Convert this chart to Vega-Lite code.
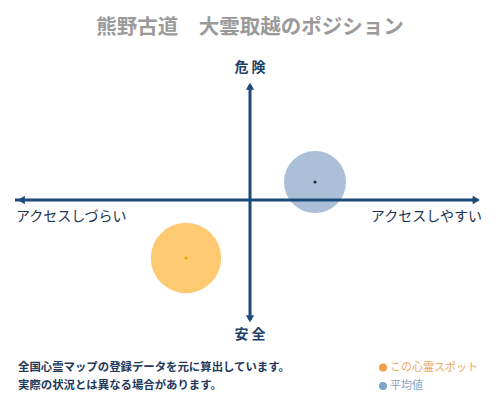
{
  "$schema": "https://vega.github.io/schema/vega-lite/v6.json",
  "width": 500,
  "height": 400,
  "autosize": {"type": "none"},
  "padding": 0,
  "background": "#ffffff",
  "config": {
    "view": {"stroke": null},
    "text": {"font": "Noto Sans CJK JP"}
  },
  "datasets": {
    "axes": [
      {"x": -9.4, "y": 0, "x2": 9.1, "y2": 0},
      {"x": 0, "y": 4.6, "x2": 0, "y2": -4.8}
    ],
    "heads": [
      {"x": -9.15, "y": 0, "dir": "triangle-left"},
      {"x": 9.05, "y": 0, "dir": "triangle-right"},
      {"x": 0, "y": 4.55, "dir": "triangle-up"},
      {"x": 0, "y": -4.75, "dir": "triangle-down"}
    ],
    "spots": [
      {"name": "平均値", "x": 2.6, "y": 0.72},
      {"name": "この心霊スポット", "x": -2.56, "y": -2.32}
    ],
    "labels": [
      {"text": "熊野古道　大雲取越のポジション", "x": 0, "y": 6.88, "role": "title"},
      {"text": "危 険", "x": 0, "y": 5.28, "role": "pole"},
      {"text": "安 全", "x": 0, "y": -5.4, "role": "pole"}
    ],
    "sides": [
      {"text": "アクセスしづらい", "x": -9.36, "y": -0.66, "side": "left"},
      {"text": "アクセスしやすい", "x": 9.28, "y": -0.66, "side": "right"}
    ],
    "notes": [
      {"text": "全国心霊マップの登録データを元に算出しています。", "x": -9.28, "y": -6.72},
      {"text": "実際の状況とは異なる場合があります。", "x": -9.28, "y": -7.44}
    ],
    "legend": [
      {"name": "この心霊スポット", "x": 5.32, "y": -6.7},
      {"name": "平均値", "x": 5.32, "y": -7.44}
    ]
  },
  "encoding": {
    "x": {"field": "x", "type": "quantitative", "scale": {"domain": [-10, 10]}, "axis": null},
    "y": {"field": "y", "type": "quantitative", "scale": {"domain": [-8, 8]}, "axis": null}
  },
  "resolve": {"scale": {"color": "independent"}},
  "layer": [
    {
      "data": {"name": "spots"},
      "transform": [{"filter": "datum.name === '平均値'"}],
      "mark": {"type": "circle", "opacity": 1, "size": 3850, "color": "#abc0d8"}
    },
    {
      "data": {"name": "spots"},
      "transform": [{"filter": "datum.name === 'この心霊スポット'"}],
      "mark": {"type": "circle", "opacity": 1, "size": 4950, "color": "#fdca72"}
    },
    {
      "data": {"name": "axes"},
      "mark": {"type": "rule", "color": "#1c4a78", "strokeWidth": 3},
      "encoding": {
        "x2": {"field": "x2"},
        "y2": {"field": "y2"}
      }
    },
    {
      "data": {"name": "heads"},
      "mark": {"type": "point", "filled": true, "color": "#1c4a78", "opacity": 1, "size": 70},
      "encoding": {
        "shape": {"field": "dir", "type": "nominal", "scale": null}
      }
    },
    {
      "data": {"name": "spots"},
      "mark": {"type": "circle", "opacity": 1, "size": 10},
      "encoding": {
        "color": {"field": "name", "type": "nominal", "scale": {"domain": ["平均値", "この心霊スポット"], "range": ["#1a2a3a", "#f0a000"]}, "legend": null}
      }
    },
    {
      "data": {"name": "labels"},
      "transform": [{"filter": "datum.role === 'title'"}],
      "mark": {"type": "text", "align": "center", "baseline": "middle", "fontWeight": "bold", "fontSize": 20.5, "color": "#9a9a9a"},
      "encoding": {"text": {"field": "text"}}
    },
    {
      "data": {"name": "labels"},
      "transform": [{"filter": "datum.role === 'pole'"}],
      "mark": {"type": "text", "align": "center", "baseline": "middle", "fontWeight": "bold", "fontSize": 14, "color": "#1c3f66"},
      "encoding": {"text": {"field": "text"}}
    },
    {
      "data": {"name": "sides"},
      "transform": [{"filter": "datum.side === 'left'"}],
      "mark": {"type": "text", "align": "left", "baseline": "middle", "fontSize": 14, "color": "#1c3350"},
      "encoding": {"text": {"field": "text"}}
    },
    {
      "data": {"name": "sides"},
      "transform": [{"filter": "datum.side === 'right'"}],
      "mark": {"type": "text", "align": "right", "baseline": "middle", "fontSize": 14, "color": "#1c3350"},
      "encoding": {"text": {"field": "text"}}
    },
    {
      "data": {"name": "notes"},
      "mark": {"type": "text", "align": "left", "baseline": "middle", "fontSize": 11.4, "fontWeight": "bold", "color": "#1f3a5c"},
      "encoding": {
        "text": {"field": "text"}
      }
    },
    {
      "data": {"name": "legend"},
      "mark": {"type": "circle", "opacity": 1, "size": 64},
      "encoding": {
        "color": {"field": "name", "type": "nominal", "scale": {"domain": ["平均値", "この心霊スポット"], "range": ["#7ea3c8", "#f0a048"]}, "legend": null}
      }
    },
    {
      "data": {"name": "legend"},
      "mark": {"type": "text", "align": "left", "baseline": "middle", "fontSize": 11, "dx": 7},
      "encoding": {
        "text": {"field": "name"},
        "color": {"field": "name", "type": "nominal", "scale": {"domain": ["平均値", "この心霊スポット"], "range": ["#8ca4c0", "#e8a860"]}, "legend": null}
      }
    }
  ]
}
